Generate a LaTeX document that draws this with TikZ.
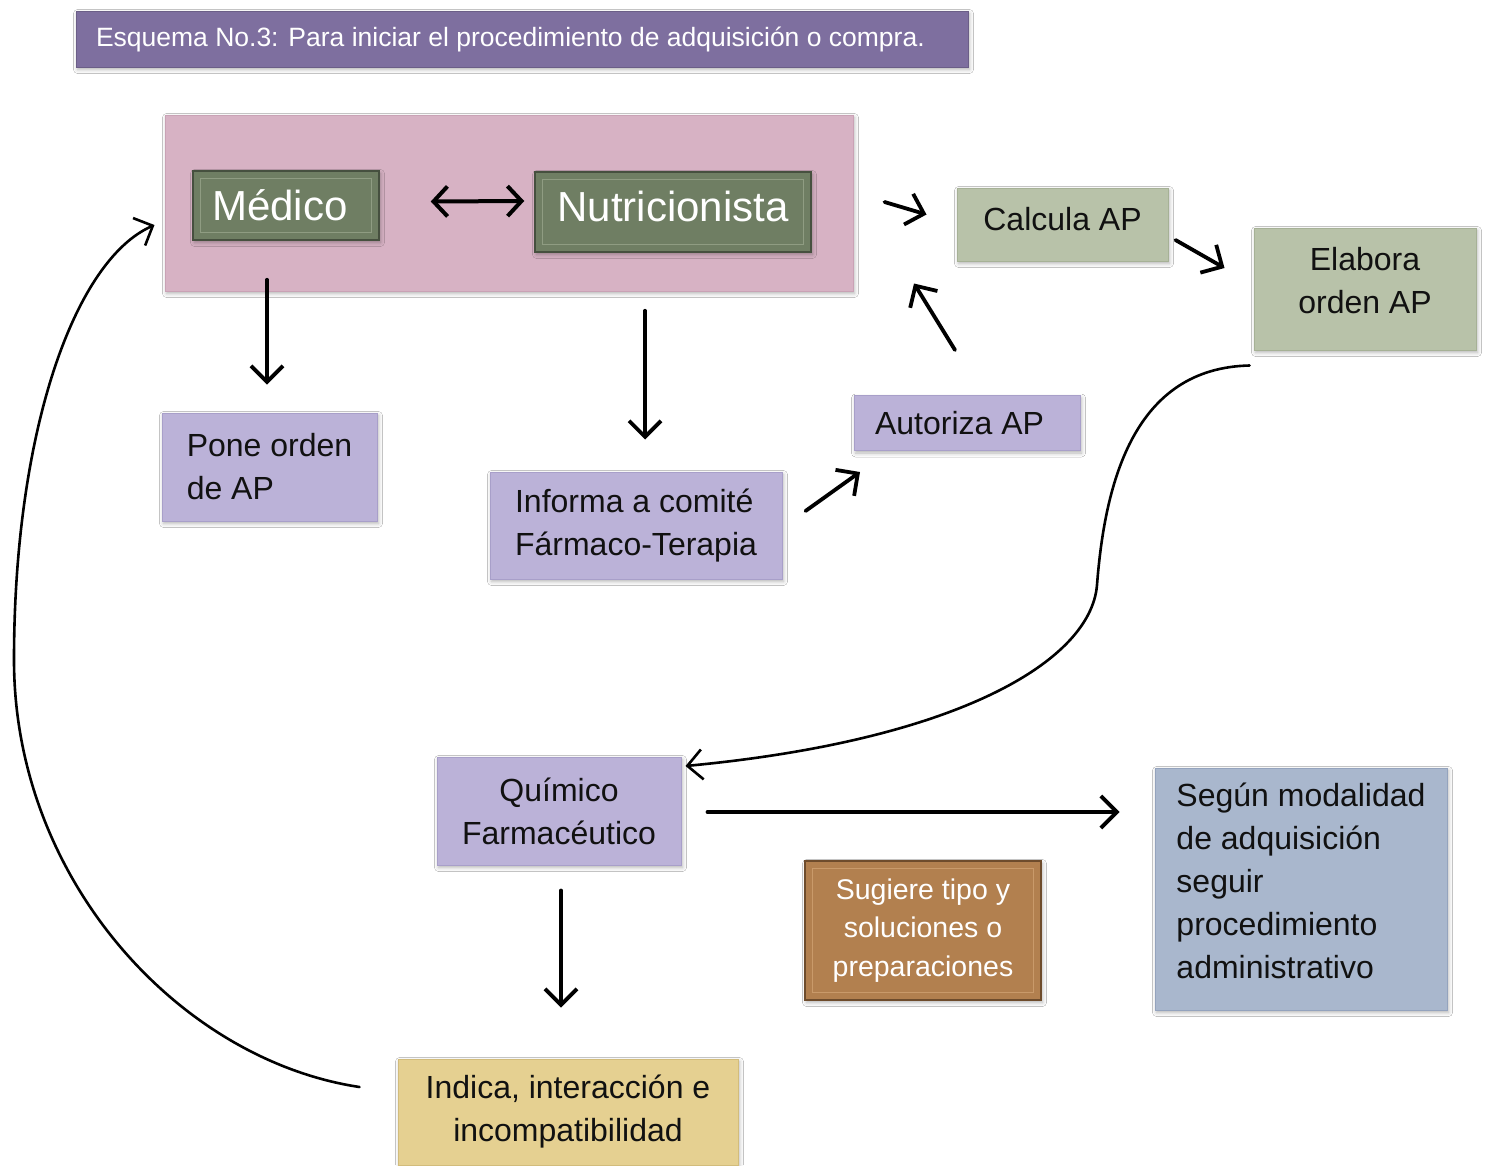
\documentclass[tikz,border=0pt]{standalone}
\usepackage{fontspec}
\setmainfont{Liberation Sans}
\usetikzlibrary{arrows.meta,calc,shadows.blur}

\definecolor{titlefill}{HTML}{7E6F9F}
\definecolor{pinkfill}{HTML}{D7B2C4}
\definecolor{pinkline}{HTML}{C9A2B5}
\definecolor{darkgreen}{HTML}{6F7E63}
\definecolor{darkgreenline}{HTML}{46503F}
\definecolor{darkgreenhi}{HTML}{8F9C82}
\definecolor{sage}{HTML}{B8C2A9}
\definecolor{sageline}{HTML}{A6B196}
\definecolor{lav}{HTML}{BBB2D8}
\definecolor{lavline}{HTML}{A89FC9}
\definecolor{steel}{HTML}{A9B7CD}
\definecolor{steelline}{HTML}{94A3BD}
\definecolor{brown}{HTML}{B2804F}
\definecolor{brownline}{HTML}{6E4C2C}
\definecolor{brownhi}{HTML}{C99A6A}
\definecolor{tan}{HTML}{E5D091}
\definecolor{tanline}{HTML}{D2BC7B}
\definecolor{ink}{HTML}{111111}

\tikzset{
  card/.style={rectangle, inner sep=0pt, line width=1pt,
    blur shadow={shadow xshift=1.5pt, shadow yshift=-2.5pt,
                 shadow blur radius=4pt, shadow opacity=30}},
  bigtext/.style={font=\fontsize{32}{43}\selectfont, text=ink},
  lavbox/.style={card, bigtext, fill=lav, draw=lavline},
  sagebox/.style={card, bigtext, fill=sage, draw=sageline},
  steelbox/.style={card, bigtext, fill=steel, draw=steelline},
  tanbox/.style={card, bigtext, fill=tan, draw=tanline},
  greenbox/.style={card, fill=darkgreen, draw=darkgreenline, line width=1.5pt,
    text=white, font=\fontsize{42}{50}\selectfont},
  brownbox/.style={card, fill=brown, draw=brownline, line width=1.5pt,
    text=white, font=\fontsize{28.5}{38.5}\selectfont},
  bevel/.style={draw=#1, line width=0.8pt},
  arr/.style={line width=3.8pt, line cap=round,
    -{Straight Barb[length=16pt, width=32pt]}},
  curv/.style={line width=2.6pt, line cap=round,
    -{Straight Barb[length=15pt, width=30pt]}},
  dbl/.style={line width=4pt,
    {Straight Barb[length=14pt, width=30pt]}-{Straight Barb[length=14pt, width=30pt]}}
}

\begin{document}
\begin{tikzpicture}[x=1pt, y=-1pt]
  \clip (0,0) rectangle (1486,1165);
  \fill[white] (0,0) rectangle (1486,1165);

  % heading bar
  \node[card, fill=titlefill, draw=titlefill!85!black, minimum width=892, minimum height=56,
        text=white, font=\fontsize{26.5}{30}\selectfont] (title) at (522,39)
        {\makebox[852pt][l]{Esquema No.3: Para iniciar el procedimiento de adquisición o compra.}};

  % group holding both professionals
  \node[card, fill=pinkfill, draw=pinkline, minimum width=688, minimum height=176] (grp) at (509,203) {};
  \node[greenbox, minimum width=186, minimum height=69] (med) at (286,205.5) {Médico\hspace*{12pt}};
  \node[greenbox, minimum width=276, minimum height=80, align=center] (nut) at (673,212) {Nutricionista\\[-38pt]};
  \draw[bevel=darkgreenhi] ($(med.south west)+(8,-8)$) rectangle ($(med.north east)+(-8,8)$);
  \draw[bevel=darkgreenhi] ($(nut.south west)+(8,-8)$) rectangle ($(nut.north east)+(-8,8)$);

  % steps
  \node[sagebox, minimum width=211, minimum height=73, align=center] (calc) at (1062.5,224.5) {Calcula AP\\[-31pt]};
  \node[sagebox, minimum width=222, minimum height=122, align=center] (elab) at (1365,289) {Elabora\\orden AP\\[-26pt]};
  \node[lavbox, minimum width=226, minimum height=55] (aut) at (967,423) {\hspace*{-15pt}Autoriza AP};
  \node[lavbox, minimum width=215, minimum height=108, align=left] (pone) at (269.5,467) {Pone orden\\de AP};
  \node[lavbox, minimum width=292, minimum height=107, align=left] (inf) at (636,525.5) {Informa a comité\\Fármaco-Terapia};
  \node[lavbox, minimum width=244, minimum height=108, align=center] (quim) at (559,811) {Químico\\Farmacéutico};
  \node[steelbox, minimum width=292, minimum height=242, align=left] (seg) at (1301,889)
       {Según modalidad\\de adquisición\\seguir\\procedimiento\\administrativo\\[-27pt]};
  \node[brownbox, minimum width=236, minimum height=139, align=center] (sug) at (923,930.5)
       {Sugiere tipo y\\soluciones o\\preparaciones};
  \draw[bevel=brownhi] ($(sug.south west)+(8,-8)$) rectangle ($(sug.north east)+(-8,8)$);
  \node[tanbox, minimum width=340, minimum height=106, align=center] (ind) at (568,1112)
       {Indica, interacción e\\incompatibilidad};

  % connectors
  \draw[dbl] ($(med.east)+(51,-4)$) -- ($(nut.west)+(-10,-11)$);
  \draw[arr] ($(grp.east)+(31,-1)$) -- ($(calc.west)+(-30,-10)$);
  \draw[arr] ($(calc.east)+(7,15.5)$) -- ($(elab.west)+(-29,-21)$);
  \draw[arr] ($(aut.north)+(-12,-45)$) -- ($(calc.south)+(-148.5,22)$);
  \draw[arr] ($(med.south)+(-19,39)$) -- ($(pone.north)+(-2.5,-28)$);
  \draw[arr] ($(nut.south)+(-28,58)$) -- ($(inf.north)+(9,-32)$);
  \draw[arr] ($(inf.east)+(23,-14.5)$) -- ($(aut.south)+(-107,21)$);
  \draw[arr] ($(quim.east)+(26,1)$) -- ($(seg.west)+(-35,-77)$);
  \draw[arr] ($(quim.south)+(2,25)$) -- ($(ind.north)+(-7,-51)$);

  \draw[curv] ($(elab.south west)+(-4,15)$) .. controls (1135,368) and (1105,480) .. (1097,585)
              .. controls (1091,660) and (960,740) .. ($(quim.east)+(4,-45)$);
  \draw[curv] ($(ind.west)+(-38,-25)$) .. controls (180,1060) and (14,880) .. (14,660)
              .. controls (14,430) and (75,260) .. ($(grp.west)+(-10,22)$);
\end{tikzpicture}
\end{document}
